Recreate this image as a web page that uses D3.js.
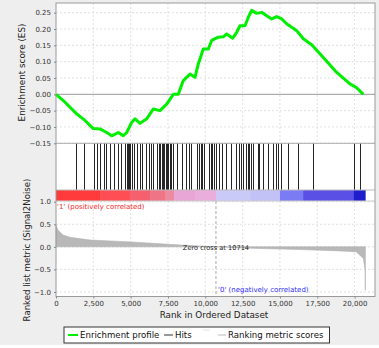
<!DOCTYPE html>
<html><head><meta charset="utf-8">
<script src="https://cdn.jsdelivr.net/npm/d3@7/dist/d3.min.js"></script>
<style>body{margin:0;background:#fff}svg{display:block}text{font-family:"DejaVu Sans",sans-serif}</style>
</head><body><svg id="c" width="379" height="348"></svg>
<script>
// ---- data ----
const esRank = [0,489,1387,1942,2498,2947,3396,3731,4173,4508,4735,5070,5291,5626,6075,6517,6966,7415,7857,8192,8527,8975,9310,9531,9866,10201,10429,10871,11206,11434,11836,12104,12324,12659,12881,13108,13443,13778,14113,14448,14783,15117,15452,16122,16564,17127,17904,18801,19692,20141,20583];
const esValue = [0,-0.019,-0.06,-0.08,-0.105,-0.106,-0.117,-0.127,-0.117,-0.127,-0.117,-0.086,-0.075,-0.089,-0.075,-0.045,-0.05,-0.03,0.0,0.0,0.042,0.062,0.052,0.093,0.139,0.139,0.165,0.175,0.176,0.185,0.172,0.19,0.21,0.21,0.236,0.257,0.248,0.251,0.241,0.231,0.238,0.231,0.216,0.195,0.17,0.152,0.113,0.067,0.032,0.02,0.0];
const hitRanks = [1345,1904,2576,2758,2960,3182,3343,3632,3901,4124,4352,4642,4756,4843,4911,4978,5092,5200,5429,5604,5765,6034,6209,6370,6505,6794,6895,6996,7097,7198,7265,7366,7467,7534,7635,7736,7837,8119,8456,8678,8900,9014,9465,9572,9687,9801,9909,10245,10360,10474,10582,10696,10918,11147,11369,11705,12041,12263,12377,12492,12714,12828,12937,13050,13165,13501,13609,13837,14174,14510,14732,14847,15069,15520,16233,17242,19932,20383];
const metricRank = [0,135,470,940,2290,4980,8340,10714,13000,16410,19000,20110,20590,20700,20720];
const metricValue = [0.48,0.37,0.26,0.21,0.15,0.11,0.04,0.0,-0.03,-0.06,-0.09,-0.11,-0.26,-0.5,-0.96];
const barStart = [0,2950,4950,6300,7300,7900,9300,10714,13000,15000,16550,19950];
const barColor = ["#ff3b3b","#ff4f55","#f5606e","#ee7486","#ec8aa0","#e8a6d6","#e9aedc","#cacaf9","#c2c2f6","#7b7bf4","#5a50e6","#1e1ecc"];
const nGenes = 20720;
const zeroCross = 10714;
const xTicks = [0,2500,5000,7500,10000,12500,15000,17500,20000];
const esTicks = [-0.15,-0.10,-0.05,0.00,0.05,0.10,0.15,0.20,0.25];
const rlTicks = [-1.0,-0.5,0.0,0.5,1.0];
const legendItems = ["Enrichment profile","Hits","","Ranking metric scores"];

// ---- layout ----
const svg = d3.select("#c");
const L = 56, R = 375, T = 3, B = 296.5;
const esBottom = 143.3, hitBottom = 190, barBottom = 201;
svg.append("rect").attr("x",0).attr("y",0).attr("width",379).attr("height",345).attr("fill","#eeeeee");
svg.append("rect").attr("x",L).attr("y",T).attr("width",R-L).attr("height",B-T).attr("fill","#fff");

const x = d3.scaleLinear().domain([0,20000]).range([L,354.6]);
const yES = d3.scaleLinear().domain([-0.15,0.2797]).range([esBottom,T]);
const yRL = d3.scaleLinear().domain([-1.1,1.0]).range([B,201.7]);

const grid = "#d8d8d8";
// ES grid
svg.append("g").selectAll("line").data(xTicks.slice(1)).join("line")
  .attr("x1",d=>x(d)).attr("x2",d=>x(d)).attr("y1",T).attr("y2",esBottom)
  .attr("stroke",grid).attr("stroke-width",0.8).attr("stroke-dasharray","2,2");
svg.append("g").selectAll("line").data(esTicks.filter(d=>Math.abs(d)>1e-9)).join("line")
  .attr("x1",L).attr("x2",R).attr("y1",d=>yES(d)).attr("y2",d=>yES(d))
  .attr("stroke",grid).attr("stroke-width",0.8).attr("stroke-dasharray","2,2");
svg.append("line").attr("x1",L).attr("x2",R).attr("y1",yES(0)).attr("y2",yES(0)).attr("stroke","#999").attr("stroke-width",1);
// RL grid
svg.append("g").selectAll("line").data(xTicks.slice(1)).join("line")
  .attr("x1",d=>x(d)).attr("x2",d=>x(d)).attr("y1",barBottom).attr("y2",B)
  .attr("stroke",grid).attr("stroke-width",0.8).attr("stroke-dasharray","2,2");
svg.append("g").selectAll("line").data(rlTicks).join("line")
  .attr("x1",L).attr("x2",R).attr("y1",d=>yRL(d)).attr("y2",d=>yRL(d))
  .attr("stroke",grid).attr("stroke-width",0.8).attr("stroke-dasharray","2,2");

// ES line
svg.append("path").datum(esRank.map((r,i)=>[r,esValue[i]]))
  .attr("d",d3.line().x(d=>x(d[0])).y(d=>yES(d[1])))
  .attr("fill","none").attr("stroke","#00ee00").attr("stroke-width",3).attr("stroke-linejoin","round");

// hits
svg.append("g").selectAll("line").data(hitRanks).join("line")
  .attr("x1",d=>Math.round(x(d))+0.5).attr("x2",d=>Math.round(x(d))+0.5).attr("y1",esBottom).attr("y2",hitBottom)
  .attr("stroke","#000").attr("stroke-width",1).attr("stroke-opacity",0.85);

// color bar
svg.append("g").selectAll("rect").data(barStart).join("rect")
  .attr("x",d=>x(d)).attr("y",hitBottom)
  .attr("width",(d,i)=>x(i<barStart.length-1?barStart[i+1]:nGenes)-x(d)+0.3)
  .attr("height",barBottom-hitBottom).attr("fill",(d,i)=>barColor[i]);

// panel separators
svg.append("line").attr("x1",L).attr("x2",R).attr("y1",esBottom).attr("y2",esBottom).attr("stroke","#aaa");
svg.append("line").attr("x1",L).attr("x2",R).attr("y1",hitBottom).attr("y2",hitBottom).attr("stroke","#bbb");
svg.append("line").attr("x1",L).attr("x2",R).attr("y1",barBottom).attr("y2",barBottom).attr("stroke","#ccc");

// ranked metric area
svg.append("path").datum(metricRank.map((r,i)=>[r,metricValue[i]]))
  .attr("d",d3.area().x(d=>x(d[0])).y0(yRL(0)).y1(d=>yRL(d[1])))
  .attr("fill","#b8b8b8").attr("stroke","#b0b0b0").attr("stroke-width",0.6);

// zero cross line
svg.append("line").attr("x1",x(zeroCross)).attr("x2",x(zeroCross)).attr("y1",barBottom).attr("y2",B)
  .attr("stroke","#aaa").attr("stroke-width",1).attr("stroke-dasharray","3,2");
svg.append("text").attr("x",x(zeroCross)).attr("y",250).attr("text-anchor","middle")
  .attr("font-size",6.6).attr("fill","#222").text("Zero cross at "+zeroCross);
svg.append("text").attr("x",57).attr("y",209).attr("font-size",7).attr("fill","#ff2828").text("'1' (positively correlated)");
svg.append("text").attr("x",218).attr("y",291.5).attr("font-size",7).attr("fill","#3030ff").text("'0' (negatively correlated)");

// frame
svg.append("rect").attr("x",L).attr("y",T).attr("width",R-L).attr("height",B-T).attr("fill","none").attr("stroke","#999").attr("stroke-width",1);

// axes
const tickFmt = d3.format(",");
const gx = svg.append("g").attr("transform",`translate(0,${B})`).call(d3.axisBottom(x).tickValues(xTicks).tickFormat(tickFmt).tickSize(2).tickPadding(3));
const gy1 = svg.append("g").attr("transform",`translate(${L},0)`).call(d3.axisLeft(yES).tickValues(esTicks).tickFormat(d3.format(".2f")).tickSize(2).tickPadding(3));
const gy2 = svg.append("g").attr("transform",`translate(${L},0)`).call(d3.axisLeft(yRL).tickValues(rlTicks).tickFormat(d3.format(".1f")).tickSize(2).tickPadding(3));
[gx,gy1,gy2].forEach(g=>{
  g.select(".domain").remove();
  g.selectAll(".tick line").attr("stroke","#888");
  g.selectAll(".tick text").attr("font-size",7).attr("fill","#333").attr("font-family","DejaVu Sans");
});

// titles
svg.append("text").attr("transform","translate(22,72.5) rotate(-90)").attr("text-anchor","middle").attr("dominant-baseline","central")
  .attr("font-size",8.8).attr("fill","#222").text("Enrichment score (ES)");
svg.append("text").attr("transform","translate(27,250) rotate(-90)").attr("text-anchor","middle").attr("dominant-baseline","central")
  .attr("font-size",8.6).attr("fill","#222").text("Ranked list metric (Signal2Noise)");
svg.append("text").attr("x",214).attr("y",315).attr("text-anchor","middle").attr("dominant-baseline","central")
  .attr("font-size",8.8).attr("fill","#222").text("Rank in Ordered Dataset");

// legend
const lg = svg.append("g");
lg.append("rect").attr("x",64).attr("y",327).attr("width",265.5).attr("height",16).attr("fill","#fff").attr("stroke","#333").attr("stroke-width",1);
const lx = [68,164,203,218], ly = [335,335,330,335], lc = ["#00ee00","#333","#e4e4e4","#bbb"], lw=[10,9,7,8];
legendItems.forEach((t,i)=>{
  lg.append("line").attr("x1",lx[i]).attr("x2",lx[i]+lw[i]).attr("y1",ly[i]).attr("y2",ly[i]).attr("stroke",lc[i]).attr("stroke-width",i==0?2:1);
  if(t) lg.append("text").attr("x",lx[i]+lw[i]+2).attr("y",335).attr("dominant-baseline","central").attr("font-size",8.6).attr("fill","#111").text(t);
});
</script></body></html>
